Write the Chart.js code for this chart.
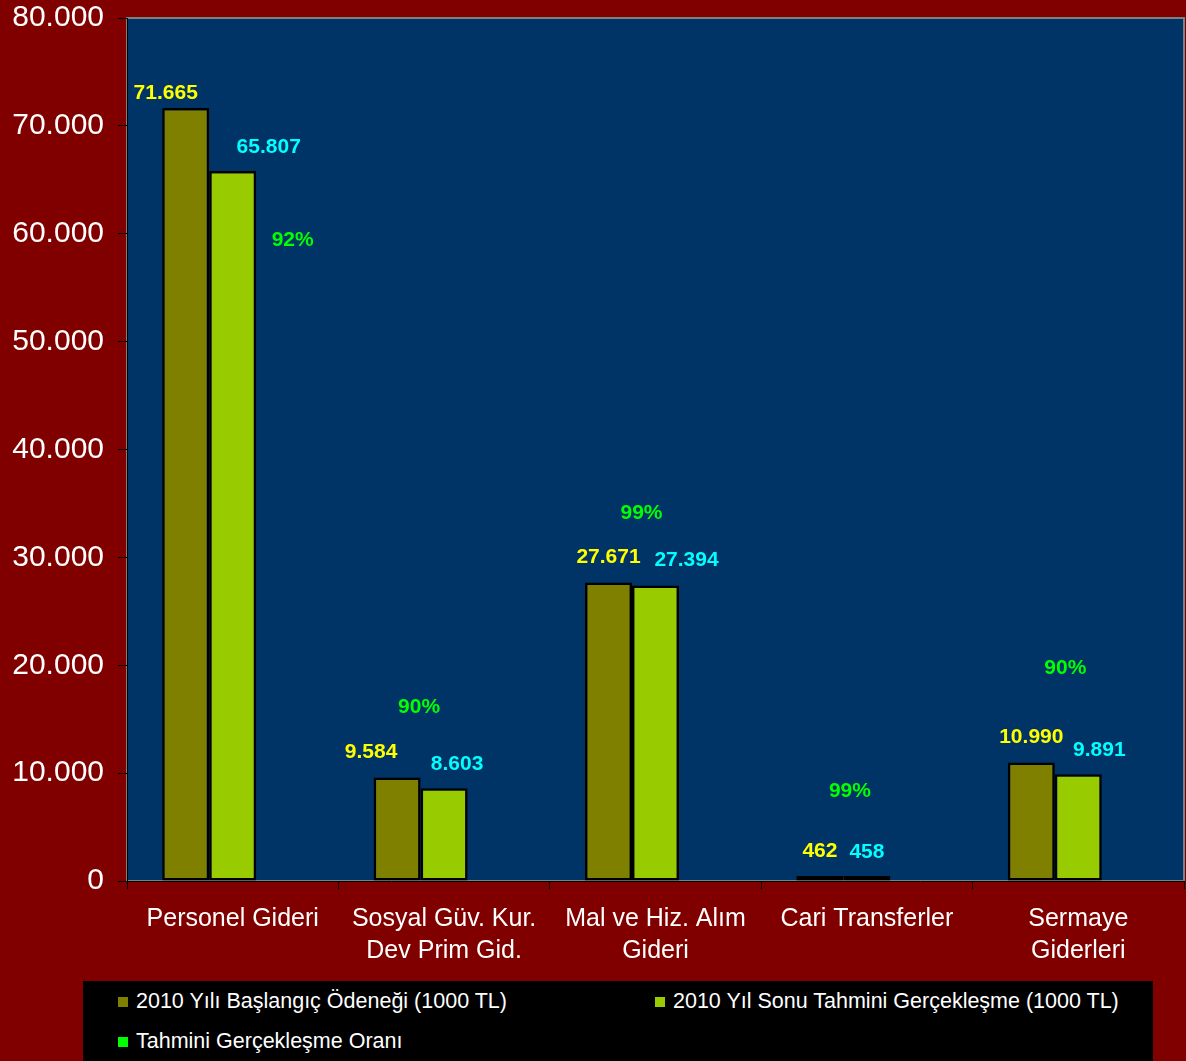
<!DOCTYPE html>
<html>
<head>
<meta charset="utf-8">
<script src="https://cdn.jsdelivr.net/npm/chart.js@4"></script>
<style>
  html, body { margin: 0; padding: 0; background: #800000; }
  #wrap { position: relative; width: 1186px; height: 1061px; }
  #legend {
    position: absolute; left: 83px; top: 981px; width: 1070px; height: 80px;
    background: #000; color: #fff; font: 21.5px "Liberation Sans", Arial, sans-serif;
  }
  #legend .item { position: absolute; white-space: nowrap; line-height: 24px; }
  #legend .box { display: inline-block; width: 10px; height: 10px; margin-right: 8px; vertical-align: 1px; }
</style>
</head>
<body>
<div id="wrap">
  <canvas id="chart" width="1186" height="1061"></canvas>
  <div id="legend"></div>
</div>
<script>
const categories = [
  ['Personel Gideri'],
  ['Sosyal Güv. Kur.', 'Dev Prim Gid.'],
  ['Mal ve Hiz. Alım', 'Gideri'],
  ['Cari Transferler'],
  ['Sermaye', 'Giderleri']
];
const seriesNames = [
  '2010 Yılı Başlangıç Ödeneği (1000 TL)',
  '2010 Yıl Sonu Tahmini Gerçekleşme (1000 TL)',
  'Tahmini Gerçekleşme Oranı'
];
const initialBudget = [71665, 9584, 27671, 462, 10990];
const yearEndEstimate = [65807, 8603, 27394, 458, 9891];
const realizationRate = [92, 90, 99, 99, 90];

// label placement (layout only)
const valueLabelDx = [[-20, -26, 0, 0, 0], [36, 13, 31, 0, 21]];
const valueLabelLift = [[15, 25, 25, 25, 25], [24, 24, 25, 24, 24]];
const rateLabelAt = [59400, 16100, 34100, 8300, 19700];
const rateLabelDx = [60, -25, -14, -17, -13];

const FONT = '"Liberation Sans", Arial, sans-serif';
const dotted = n => String(n).replace(/\B(?=(\d{3})+(?!\d))/g, '.');

const backdrop = {
  id: 'backdrop',
  beforeDraw(chart) {
    const { ctx, chartArea: a } = chart;
    ctx.save();
    ctx.fillStyle = '#800000';
    ctx.fillRect(0, 0, chart.width, chart.height);
    ctx.fillStyle = '#003366';
    ctx.fillRect(a.left, a.top, a.right - a.left, a.bottom - a.top);
    ctx.strokeStyle = '#808080';
    ctx.lineWidth = 2;
    ctx.strokeRect(a.left, a.top, a.right - a.left, a.bottom - a.top);
    ctx.restore();
  }
};

const labels = {
  id: 'labels',
  afterDatasetsDraw(chart) {
    const { ctx } = chart;
    ctx.save();
    ctx.font = 'bold 21px ' + FONT;
    ctx.textAlign = 'center';
    ctx.textBaseline = 'middle';
    const colors = ['#ffff00', '#00ffff'];
    [initialBudget, yearEndEstimate].forEach((vals, d) => {
      const meta = chart.getDatasetMeta(d);
      ctx.fillStyle = colors[d];
      meta.data.forEach((bar, i) => {
        ctx.fillText(dotted(vals[i]), bar.x + valueLabelDx[d][i], bar.y - valueLabelLift[d][i]);
      });
    });
    const xs = chart.scales.x, ys = chart.scales.y;
    ctx.fillStyle = '#00ff00';
    realizationRate.forEach((v, i) => {
      ctx.fillText(v + '%', xs.getPixelForValue(i) + rateLabelDx[i], ys.getPixelForValue(rateLabelAt[i]));
    });
    ctx.restore();
  }
};

new Chart(document.getElementById('chart'), {
  type: 'bar',
  data: {
    labels: categories,
    datasets: [
      { label: seriesNames[0], data: initialBudget, backgroundColor: '#808000', borderColor: '#000', borderWidth: 2.5, borderSkipped: false },
      { label: seriesNames[1], data: yearEndEstimate, backgroundColor: '#99cc00', borderColor: '#000', borderWidth: 2.5, borderSkipped: false },
      { label: seriesNames[2], data: realizationRate, yAxisID: 'y2', backgroundColor: 'rgba(0,0,0,0)', borderWidth: 0 }
    ]
  },
  options: {
    responsive: false,
    animation: false,
    categoryPercentage: 0.667,
    barPercentage: 1,
    layout: { padding: { top: 18, right: 2, left: 0, bottom: 0 } },
    plugins: { legend: { display: false }, tooltip: { enabled: false } },
    scales: {
      x: {
        offset: true,
        grid: { display: true, drawOnChartArea: false, tickLength: 8, color: '#000', offset: true },
        border: { color: '#000', width: 1 },
        ticks: { color: '#fff', font: { family: FONT, size: 25, lineHeight: 1.28 }, padding: 14, maxRotation: 0, autoSkip: false },
        afterFit(s) { s.height = 180; s.paddingLeft = 0; s.paddingRight = 0; }
      },
      y: {
        min: 0, max: 80000,
        grid: { display: true, drawOnChartArea: false, tickLength: 9, color: '#000' },
        border: { color: '#000', width: 1 },
        ticks: { stepSize: 10000, color: '#fff', font: { family: FONT, size: 30 }, padding: 14, callback: v => dotted(v) },
        afterFit(s) { s.width = 127; s.paddingTop = 0; s.paddingBottom = 0; }
      },
      y2: { display: false, min: 0, max: 1000 }
    }
  },
  plugins: [backdrop, labels]
});

const legendColors = ['#808000', '#99cc00', '#00ff00'];
const legendPos = [[35, 8], [572, 8], [35, 48]];
const legend = document.getElementById('legend');
seriesNames.forEach((name, i) => {
  const el = document.createElement('div');
  el.className = 'item';
  el.style.left = legendPos[i][0] + 'px';
  el.style.top = legendPos[i][1] + 'px';
  el.innerHTML = '<span class="box" style="background:' + legendColors[i] + '"></span>';
  el.appendChild(document.createTextNode(name));
  legend.appendChild(el);
});
</script>
</body>
</html>
